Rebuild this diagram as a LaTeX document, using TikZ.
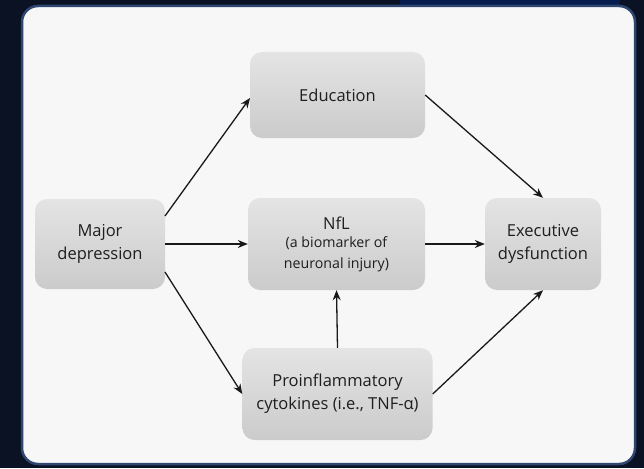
\documentclass[tikz,border=0pt]{standalone}
\usepackage{fontspec}
\setmainfont{Open Sans}
\usetikzlibrary{arrows.meta,shadows}
\definecolor{bgnavy}{HTML}{0A1224}
\definecolor{panelfill}{HTML}{F7F7F7}
\definecolor{panelrim}{HTML}{2E4670}
\definecolor{boxtop}{HTML}{E4E4E4}
\definecolor{boxbot}{HTML}{CBCBCB}
\definecolor{txt}{HTML}{1E1E1E}
\newcommand{\subfont}{\fontsize{14.2}{19}\selectfont}
\tikzset{
  x=1pt,y=-1pt,
  box/.style={rectangle,rounded corners=12pt,top color=boxtop,bottom color=boxbot,
    draw=none,align=center,text=txt,font=\fontsize{16.5}{23}\selectfont,inner sep=0pt},
  conn/.style={draw=black!90,line width=1.3pt,-{Stealth[length=10pt,width=8pt]}}
}
\begin{document}
\begin{tikzpicture}
\useasboundingbox (0,0) rectangle (644,468);
\fill[bgnavy] (0,0) rectangle (644,468);
\fill[blue!70!cyan,opacity=0.2] (400,0) rectangle (620,5);
\draw[panelrim,line width=2.5pt,fill=panelfill,rounded corners=16pt] (22,6) rectangle (635,464);
\node[box,minimum width=130pt,minimum height=90pt] (maj) at (100,244) {Major\\depression};
\node[box,minimum width=175pt,minimum height=86pt] (edu) at (337.5,95) {Education};
\node[box,minimum width=177pt,minimum height=92pt] (nfl) at (336.5,244) {NfL\\[-5pt]{\subfont(a biomarker of}\\[-2pt]{\subfont neuronal injury)}};
\node[box,minimum width=116pt,minimum height=92pt] (exe) at (543,244) {Executive\\dysfunction};
\node[box,minimum width=190pt,minimum height=92pt] (pro) at (337.5,394) {Proinflammatory\\cytokines (i.e., TNF-α)};
\coordinate (m1) at (165,216);
\coordinate (m3) at (165,272);
\coordinate (e1) at (250,98);
\draw[conn] (m1) -- (e1);
\draw[conn] (maj.east) -- (nfl.west);
\draw[conn] (m3) -- (pro.west);
\draw[conn] (edu.east) -- (exe.north);
\draw[conn] (nfl.east) -- (exe.west);
\draw[conn] (pro.north) -- (nfl.south);
\draw[conn] (pro.east) -- (exe.south);
\end{tikzpicture}
\end{document}
